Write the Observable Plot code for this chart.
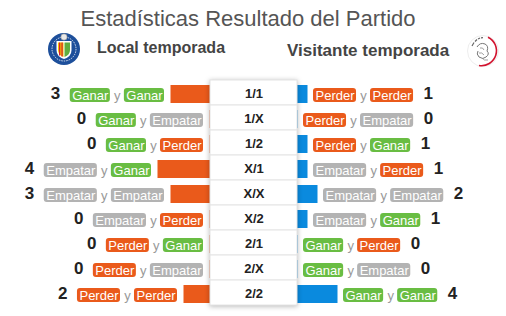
<!DOCTYPE html>
<html><head><meta charset="utf-8">
<script src="https://cdn.jsdelivr.net/npm/d3@7"></script>
<script src="https://cdn.jsdelivr.net/npm/@observablehq/plot@0.6"></script>
<style>
body{margin:0;background:#fff;font-family:"Liberation Sans",Arial,sans-serif;}
#header{position:relative;width:506px;height:75px;}
#title{position:absolute;left:-5px;width:506px;top:8px;text-align:center;font-size:22px;line-height:22px;color:#555;white-space:nowrap;}
#home{position:absolute;left:97px;top:40px;font-size:16px;line-height:16px;font-weight:bold;color:#444;white-space:nowrap;}
#away{position:absolute;left:287px;top:42px;font-size:17px;line-height:17px;font-weight:bold;color:#444;white-space:nowrap;}
.logo{position:absolute;}
#chart{position:relative;width:506px;height:241px;}
#chart svg{position:absolute;left:0;top:0;}
#center g[aria-label="cell"]{filter:drop-shadow(0 1px 2.5px rgba(0,0,0,0.28));}
</style></head>
<body>
<div id="header">
  <div id="title">Estadísticas Resultado del Partido</div>
  <svg class="logo" style="left:47px;top:32px" width="34" height="34" viewBox="0 0 34 34">
    <circle cx="17" cy="17" r="16" fill="#1d4f9b"/>
    <circle cx="17" cy="17" r="12" fill="none" stroke="#fff" stroke-width="0.8" stroke-dasharray="1.5 1"/>
    <path d="M9.5 9 H24.5 V18 Q24.5 24.5 17 27 Q9.5 24.5 9.5 18 Z" fill="#fff"/>
    <path d="M11 10.5 H16.5 V25 Q11 23 11 18 Z" fill="#f2c500"/>
    <rect x="12" y="10.5" width="1.3" height="13" fill="#d9252a"/>
    <rect x="14.4" y="10.5" width="1.3" height="14" fill="#d9252a"/>
    <path d="M17.5 10.5 H23 V18 Q23 23 17.5 25 Z" fill="#5fae3e"/>
    <circle cx="17" cy="5" r="3.2" fill="#e8e8e8" stroke="#777" stroke-width="0.5"/>
  </svg>
  <div id="home">Local temporada</div>
  <div id="away">Visitante temporada</div>
  <svg class="logo" style="left:466px;top:34px" width="34" height="34" viewBox="0 0 34 34">
    <circle cx="17" cy="17" r="15.5" fill="#fff" stroke="#eee" stroke-width="1"/>
    <path d="M22 3.2 A15 15 0 0 1 13 31.5" fill="none" stroke="#d2122e" stroke-width="1.6"/>
    <path d="M11 13 Q14 8 19 10 Q23 12 21 17 Q24 20 20 23 Q17 26 13 23 Q10 20 12 17" fill="none" stroke="#777" stroke-width="1"/>
    <path d="M14 14 Q17 13 18 16 M13 19 Q16 18 18 21 M16 24 Q18 27 22 26" fill="none" stroke="#888" stroke-width="0.8"/>
    <path d="M6 12 L8 8.5 M9 7.5 L11 5.5 M12 5 L14 4 M15 3.8 L17 3.6" stroke="#666" stroke-width="1.2"/>
  </svg>
</div>
<div id="chart"></div>
<script>
// ---- data ----
const results = ["1/1","1/X","1/2","X/1","X/X","X/2","2/1","2/X","2/2"];
const localCounts = [3,0,0,4,3,0,0,0,2];
const awayCounts  = [1,0,1,1,2,1,0,0,4];
const localFirst  = ["Ganar","Ganar","Ganar","Empatar","Empatar","Empatar","Perder","Perder","Perder"];
const localSecond = ["Ganar","Empatar","Perder","Ganar","Empatar","Perder","Ganar","Empatar","Perder"];
const awayFirst   = ["Perder","Perder","Perder","Empatar","Empatar","Empatar","Ganar","Ganar","Ganar"];
const awaySecond  = ["Perder","Empatar","Ganar","Perder","Empatar","Ganar","Perder","Empatar","Ganar"];

// ---- style ----
const ORANGE = "#ea5a1b", BLUE = "#0a8ade";
const BADGE = {Ganar:"#69bd43", Empatar:"#b3b3b3", Perder:"#ea5a1b"};
const FONT = "Liberation Sans, Arial, sans-serif";
const ctx = document.createElement("canvas").getContext("2d");
function tw(s, font){ ctx.font = font; return ctx.measureText(s).width; }
const BF = "13px 'Liberation Sans'";
const PAD = 2, YGAP = 14, NUMGAP = 10;
const bw = s => tw(s, BF) + 2*PAD;

const rows = results.map((r,i) => ({result:r, local:localCounts[i], away:awayCounts[i]}));

// layout pieces in data units (offsets outward from bar end)
function pieces(side){
  const k = side === "L" ? 13 : 10, start = side === "L" ? 7 : 6;
  const badges = [], ys = [], nums = [];
  results.forEach((r,i) => {
    const v = side === "L" ? localCounts[i] : awayCounts[i];
    const near = side === "L" ? localSecond[i] : awayFirst[i];
    const far  = side === "L" ? localFirst[i]  : awaySecond[i];
    const wn = bw(near), wf = bw(far);
    const u = px => v + px / k;
    badges.push({row:r, kind:near, x1:u(start), x2:u(start+wn), xc:u(start+wn/2)});
    ys.push({row:r, xc:u(start+wn+YGAP/2)});
    badges.push({row:r, kind:far, x1:u(start+wn+YGAP), x2:u(start+wn+YGAP+wf), xc:u(start+wn+YGAP+wf/2)});
    nums.push({row:r, n:String(v), x:u(start+wn+YGAP+wf+NUMGAP)});
  });
  return {badges, ys, nums};
}

function sidePlot(side){
  const p = pieces(side);
  const isL = side === "L";
  return Plot.plot({
    width:506, height:241, margin:0,
    style:{background:"transparent", fontFamily:FONT, overflow:"visible"},
    x:{domain:[0,4], range: isL ? [210,158] : [297,337], axis:null},
    y:{domain:results, range:[5,230], padding:0, axis:null},
    color:{type:"identity"},
    marks:[
      Plot.barX(rows, {x1:0, x2: isL ? "local" : "away", y:"result", fill: isL ? ORANGE : BLUE,
        insetTop:5, insetBottom:2, insetLeft:-0.5, insetRight:-0.5}),
      Plot.barX(p.badges, {x1:"x1", x2:"x2", y:"row", fill: d => BADGE[d.kind], rx:3, insetTop:8, insetBottom:3}),
      Plot.text(p.badges, {x:"xc", y:"row", text:"kind", fill:"white", fontSize:13, dy:2.5, lineAnchor:"middle"}),
      Plot.text(p.ys, {x:"xc", y:"row", text: () => "y", fill:"#999", fontSize:13, dy:2.5, lineAnchor:"middle"}),
      Plot.text(p.nums, {x:"x", y:"row", text:"n", textAnchor: isL ? "end" : "start", fontSize:17, fontWeight:"bold", fill:"#222", dy:1, lineAnchor:"middle"})
    ]
  });
}

const center = Plot.plot({
  width:506, height:241, margin:0,
  style:{background:"transparent", fontFamily:FONT, overflow:"visible"},
  x:{domain:["c"], range:[210,297], padding:0, axis:null},
  y:{domain:results, range:[5,230], padding:0, axis:null},
  marks:[
    Plot.cell(results, {x: () => "c", y: d => d, fill:"white", stroke:"#e4e4e4", inset:0}),
    Plot.text(results, {x: () => "c", y: d => d, text: d => d, fontWeight:"bold", fontSize:13, fill:"#222", dy:1, lineAnchor:"middle"})
  ]
});
center.id = "center";

const chart = document.getElementById("chart");
chart.append(sidePlot("L"), sidePlot("R"), center);
</script>
</body></html>
